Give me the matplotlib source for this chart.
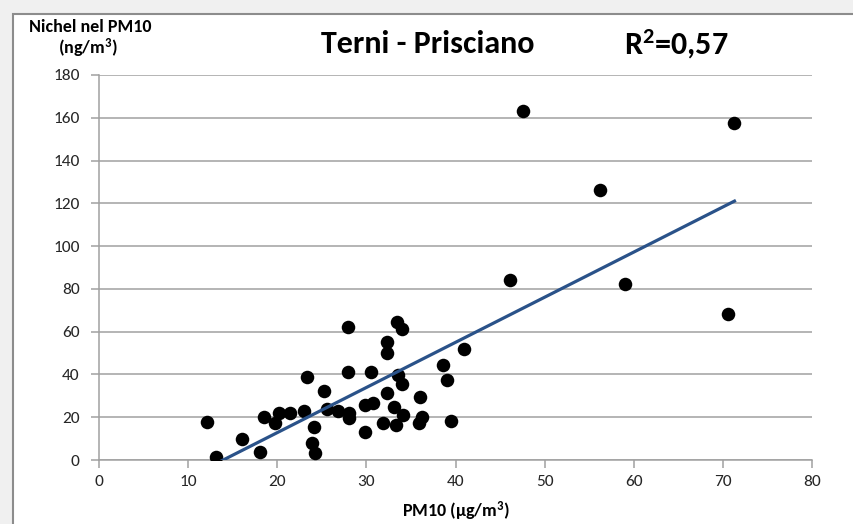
import matplotlib
matplotlib.use("Agg")
import matplotlib.pyplot as plt
import numpy as np
from matplotlib.patches import Rectangle

plt.rcParams['font.family'] = ['Carlito', 'DejaVu Sans']
plt.rcParams['mathtext.fontset'] = 'custom'
plt.rcParams['mathtext.rm'] = 'Carlito'
plt.rcParams['mathtext.bf'] = 'Carlito:bold'
plt.rcParams['mathtext.default'] = 'bf'

# Data
pm10 = [12.1, 13.1, 16.0, 18.1, 18.5, 19.8, 20.2, 21.4, 23.0, 23.3, 25.3, 24.1, 23.9, 24.2,
        25.6, 26.8, 27.9, 27.9, 28.1, 28.1, 29.8, 29.8, 30.7, 30.5, 32.3, 32.3, 33.4, 34.0,
        32.3, 33.6, 34.0, 33.1, 34.1, 31.9, 33.3, 36.0, 36.2, 35.9, 38.6, 39.1, 39.5, 41.0,
        46.1, 47.6, 56.2, 59.0, 70.6, 71.3]
nichel = [17.9, 1.5, 9.8, 3.6, 20.3, 17.1, 21.8, 22.1, 22.9, 38.9, 32.4, 15.6, 7.8, 3.1,
          23.9, 23.0, 62.3, 41.3, 21.8, 19.5, 13.2, 25.7, 26.5, 41.3, 55.3, 50.2, 64.7, 61.2,
          31.2, 39.7, 35.5, 24.6, 21.0, 17.1, 16.4, 29.6, 20.3, 17.5, 44.4, 37.4, 18.2, 51.7,
          84.2, 163.2, 126.2, 82.3, 68.1, 157.7]
trend_slope = 2.11
trend_intercept = -29.4
x_ticks = [0, 10, 20, 30, 40, 50, 60, 70, 80]
y_ticks = [0, 20, 40, 60, 80, 100, 120, 140, 160, 180]

W, H = 854, 524
fig = plt.figure(figsize=(W / 100, H / 100), dpi=100)
fig.patch.set_facecolor('#f0f0f0')
# white chart area with border
fig.patches.append(Rectangle((13 / W, -0.1), 1.2, (H - 14) / H + 0.1, transform=fig.transFigure,
                             facecolor='white', edgecolor='#8c8c8c', linewidth=1.5, zorder=-1))

ax = fig.add_axes([99 / W, (H - 460) / H, (812 - 99) / W, (460 - 75) / H])
ax.set_zorder(2)
ax.set_facecolor('none')
ax.set_xlim(0, 80)
ax.set_ylim(0, 180)
ax.set_xticks(x_ticks)
ax.set_yticks(y_ticks)
ax.set_xticklabels([str(t) for t in x_ticks])
ax.set_yticklabels([str(t) for t in y_ticks])
ax.grid(axis='y', color='#a0a0a0', linewidth=1.1)
ax.set_axisbelow(True)
for s in ['top', 'right']:
    ax.spines[s].set_visible(False)
for s in ['left', 'bottom']:
    ax.spines[s].set_color('#a0a0a0')
    ax.spines[s].set_linewidth(1.1)
ax.tick_params(axis='both', colors='#a0a0a0', labelcolor='#262626', labelsize=12.5,
               length=6, width=1.1, direction='out')
ax.tick_params(axis='x', pad=5)
ax.tick_params(axis='y', pad=8)

ax.scatter(pm10, nichel, s=95, color='black', zorder=3, linewidths=0)

xs = np.array([min(pm10), max(pm10)])
ys = trend_slope * xs + trend_intercept
ax.plot(xs, ys, color='#2a5289', linewidth=2.3, zorder=4, clip_on=True)

fig.text(428 / W, 1 - 44 / H, 'Terni - Prisciano', fontsize=23, fontweight='bold',
         ha='center', va='center', color='black')
fig.text(676 / W, 1 - 44 / H, 'R$^{2}$=0,57', fontsize=23, fontweight='bold',
         ha='center', va='center', color='black')
fig.text(90 / W, 1 - 27 / H, 'Nichel nel PM10', fontsize=13, fontweight='bold',
         ha='center', va='center')
fig.text(88 / W, 1 - 48 / H, '(ng/m$^{3}$)', fontsize=13, fontweight='bold',
         ha='center', va='center')
fig.text(456 / W, 1 - 511 / H, 'PM10 (µg/m$^{3}$)', fontsize=13, fontweight='bold',
         ha='center', va='center')

fig.savefig('out.png', dpi=100, facecolor=fig.get_facecolor())
